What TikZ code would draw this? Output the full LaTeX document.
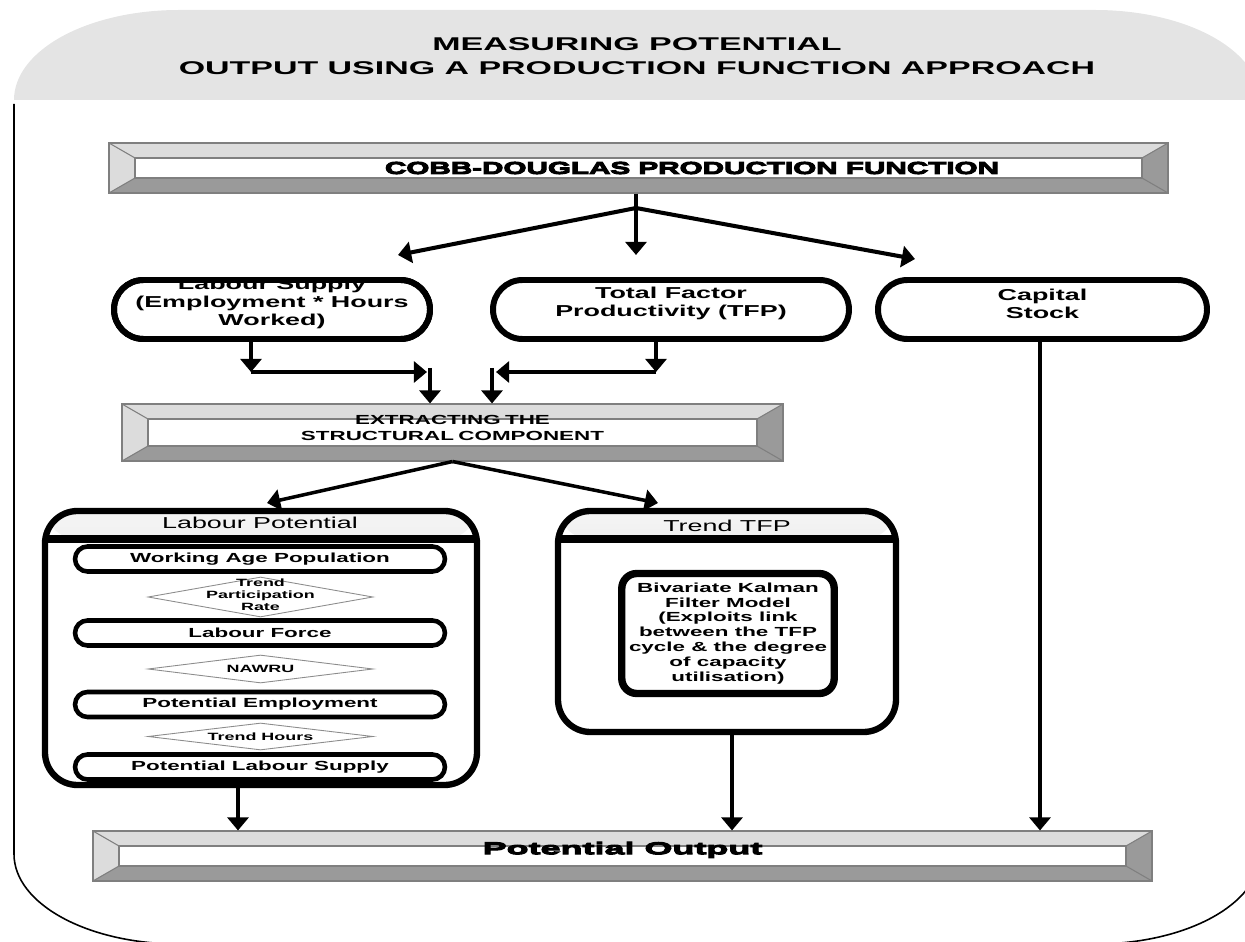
\documentclass[tikz,border=0pt]{standalone}
\usepackage{fontspec}
\setmainfont{Liberation Sans}
\newfontfamily\sfw{Liberation Sans}[FakeStretch=1.7]
\newfontfamily\sft{Liberation Sans}[FakeStretch=1.84]
\newfontfamily\sfc{Liberation Sans}[FakeStretch=1.73,FakeBold=6,BoldFeatures={FakeBold=6}]
\newfontfamily\sfp{Liberation Sans}[FakeStretch=2.1,FakeBold=6,BoldFeatures={FakeBold=6}]
\usetikzlibrary{arrows.meta,calc,fit,shapes.geometric}
\definecolor{hdrgray}{HTML}{E4E4E4}
\definecolor{bvlight}{HTML}{DCDCDC}
\definecolor{bvdark}{HTML}{9A9A9A}
\definecolor{bvedge}{HTML}{7F7F7F}
\begin{document}
\begin{tikzpicture}[x=0.02cm,y=-0.02cm,
  bevelbox/.style={draw=bvedge, line width=0.6pt, inner sep=0pt, fill=white,
    path picture={
      \coordinate (bnw) at (path picture bounding box.north west);
      \coordinate (bne) at (path picture bounding box.north east);
      \coordinate (bsw) at (path picture bounding box.south west);
      \coordinate (bse) at (path picture bounding box.south east);
      \coordinate (inw) at ($(bnw)+(26,15)$);
      \coordinate (ine) at ($(bne)+(-26,15)$);
      \coordinate (isw) at ($(bsw)+(26,-15)$);
      \coordinate (ise) at ($(bse)+(-26,-15)$);
      \fill[bvlight] (bnw) -- (bne) -- (ine) -- (inw) -- cycle;
      \fill[bvlight] (bnw) -- (inw) -- (isw) -- (bsw) -- cycle;
      \fill[bvdark] (bsw) -- (isw) -- (ise) -- (bse) -- cycle;
      \fill[bvdark] (bne) -- (ine) -- (ise) -- (bse) -- cycle;
      \draw[bvedge, line width=0.6pt] (inw) rectangle (ise);
      \draw[bvedge, line width=0.6pt] (bnw) -- (inw) (bne) -- (ine) (bsw) -- (isw) (bse) -- (ise);
    }},
  oval/.style={draw, line width=3.4pt, rounded corners=0.59cm, inner sep=0pt, outer sep=0pt, fill=white,
    align=center, font=\sfw\bfseries\fontsize{9}{10.2}\selectfont},
  cont/.style={draw, line width=3.6pt, rounded corners=0.65cm, inner sep=0pt, fill=white,
    path picture={
      \shade[top color=black!4, bottom color=black!20] (path picture bounding box.north west)
        rectangle ($(path picture bounding box.north east)+(0,28)$);
      \draw[line width=4pt] ($(path picture bounding box.north west)+(0,28)$)
        -- ($(path picture bounding box.north east)+(0,28)$);
    }},
  hdr/.style={inner sep=0pt, font=\sfw\fontsize{9}{10}\selectfont},
  istad/.style={draw, line width=2.6pt, rounded corners=0.25cm, minimum width=7.4cm,
    minimum height=0.5cm, inner sep=0pt, fill=white, font=\sfw\bfseries\fontsize{7.5}{8}\selectfont},
  dmd/.style={diamond, draw=black!45, line width=0.5pt, fill=white, inner sep=0pt, minimum width=4.5cm},
  dtext/.style={inner sep=0pt, align=center, font=\sfw\bfseries\fontsize{6}{6.8}\selectfont},
  kbox/.style={draw, line width=4.2pt, rounded corners=0.3cm, minimum width=4.25cm, minimum height=2.4cm,
    inner sep=0pt, fill=white, align=center, font=\sfw\bfseries\fontsize{7.5}{8.5}\selectfont},
  tip/.style={-{Triangle[width=12pt,length=7.5pt]}},
  arrw/.style={line width=2.3pt, tip},
  arrv/.style={line width=2pt, tip},
  thk/.style={line width=2.3pt}
]
\useasboundingbox (0,0) rectangle (1245,942);

% outer frame
\fill[hdrgray] (14,100) .. controls (14,50) and (88,10) .. (179,10) -- (1095,10)
  .. controls (1186,10) and (1260,50) .. (1260,100) -- cycle;
\draw[line width=0.9pt] (14,104) -- (14,854) .. controls (14,904) and (88,944) .. (179,944)
  -- (1095,944) .. controls (1186,944) and (1260,904) .. (1260,854) -- (1260,104);

\node[inner sep=0pt, align=center, font=\sft\bfseries\fontsize{10.5}{13.9}\selectfont] (title) at (637,56)
  {MEASURING POTENTIAL\\OUTPUT USING A PRODUCTION FUNCTION APPROACH};

% Cobb-Douglas
\node[bevelbox, fit={(109,143) (1168,193)}] (cobb) {};
\node[inner sep=0pt, font=\sfc\bfseries\fontsize{9.75}{11}\selectfont] (cobbtxt) at (692,168)
  {COBB-DOUGLAS PRODUCTION FUNCTION};

\coordinate (j) at (636,208);
\coordinate (tL) at (398,255);
\coordinate (tC) at (636,255);
\coordinate (tR) at (915,259);
\draw[thk] (cobb.south -| j) -- (j);
\draw[arrw] (j) -- (tL);
\draw[arrw] (j) -- (tC);
\draw[arrw] (j) -- (tR);

% three factors
\node[oval, fit={(114,280) (430,339)}] (labsup) {Labour Supply\\(Employment * Hours\\Worked)};
\draw[line width=3.4pt, rounded corners=0.59cm] (labsup.south west) rectangle (labsup.north east);
\node[oval, fit={(493,280) (849,339)}] (tfp) {Total Factor\\Productivity (TFP)};
\node[oval, fit={(878,280) (1207,339)}] (cap) {Capital\\Stock};

% merging arrows
\coordinate (m1) at (251,372);
\coordinate (m2) at (427,372);
\coordinate (m3) at (430,368);
\coordinate (n1) at (656,372);
\coordinate (n2) at (496,372);
\coordinate (n3) at (492,368);

% extracting
\node[bevelbox, fit={(122,404) (783,461)}, align=center,
  font=\sfw\bfseries\fontsize{7.5}{8.8}\selectfont] (ext) {EXTRACTING THE\\STRUCTURAL COMPONENT};

\draw[arrw] (labsup.south -| m1) -- (m1);
\draw[arrw] (m1) -- (m2);
\draw[arrw] (m3) -- (m3 |- ext.north);
\draw[arrw] (tfp.south -| n1) -- (n1);
\draw[arrw] (n1) -- (n2);
\draw[arrw] (n3) -- (n3 |- ext.north);

\coordinate (q1) at (267,503);
\coordinate (q2) at (658,503);
\draw[arrv] (ext.south) -- (q1);
\draw[arrv] (ext.south) -- (q2);

% Labour potential
\node[cont, fit={(45,511) (477,785)}] (lp) {};
\node[hdr] (lphdr) at (260,523) {Labour Potential};
\node[istad] (wap) at (260,559) {Working Age Population};
\node[dmd, minimum height=0.8cm] (dtpr) at (260.5,597) {};
\node[dtext] (dtprt) at (260.5,595) {Trend\\Participation\\Rate};
\node[istad] (lf) at (260,633) {Labour Force};
\node[dmd, minimum height=0.56cm] (dnaw) at (260.5,669) {};
\node[dtext] (dnawt) at (dnaw) {NAWRU};
\node[istad] (pe) at (260,704.5) {Potential Employment};
\node[dmd, minimum height=0.54cm] (dth) at (260.5,736.5) {};
\node[dtext] (dtht) at (dth) {Trend Hours};
\node[istad] (pls) at (260,767) {Potential Labour Supply};

% Trend TFP
\node[cont, fit={(558,511) (896,732)}] (ttfp) {};
\node[hdr] (ttfphdr) at (727,526) {Trend TFP};
\node[kbox] (kal) at (728,633.5) {Bivariate Kalman\\Filter Model\\(Exploits link\\between the TFP\\cycle \& the degree\\of capacity\\utilisation)};

% Potential output
\node[bevelbox, fit={(93,831) (1152,881)}, font=\sfp\bfseries\fontsize{9.75}{11}\selectfont] (po) {Potential Output};

\coordinate (a1) at (238,800);
\coordinate (a2) at (732,800);
\coordinate (a3) at (1040,800);
\draw[arrv] (lp.south -| a1) -- (po.north -| a1);
\draw[arrv] (ttfp.south -| a2) -- (po.north -| a2);
\draw[arrv] (cap.south -| a3) -- (po.north -| a3);
\end{tikzpicture}
\end{document}
